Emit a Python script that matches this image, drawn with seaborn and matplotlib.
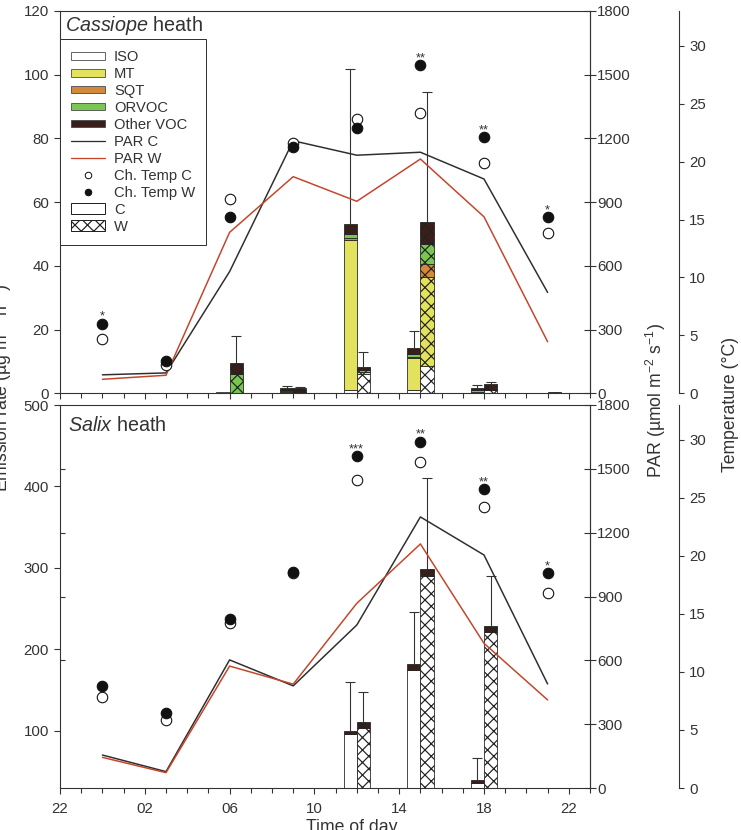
import numpy as np
import pandas as pd
import matplotlib
matplotlib.use("Agg")
import matplotlib.pyplot as plt
import matplotlib.patches as mpatches
from matplotlib.lines import Line2D
from matplotlib.legend_handler import HandlerPatch
from matplotlib.ticker import MultipleLocator
import seaborn as sns

DPI = 75
W_PX, H_PX = 741, 830


def pt(px):
    return px * 72.0 / DPI


# ---------------- data ----------------
# sampling times, hours after 22:00 (00, 03, 06, 09, 12, 15, 18, 21 h)
hours = [2, 5, 8, 11, 14, 17, 20, 23]
xtick_pos = [0, 4, 8, 12, 16, 20, 24]
xtick_labels = ["22", "02", "06", "10", "14", "18", "22"]

components = ["ISO", "MT", "SQT", "ORVOC", "Other VOC"]
comp_colors = ["#ffffff", "#e2e25e", "#d4893a", "#79c653", "#3a1e1b"]

# Cassiope heath, emission rate (ug m-2 h-1)
cas_C_ISO = [0.2, 0.2, 0.3, 0.1, 1.0, 1.0, 0.2, 0.0]
cas_C_MT = [0.0, 0.0, 0.0, 0.4, 47.0, 10.0, 0.3, 0.0]
cas_C_SQT = [0.0, 0.0, 0.0, 0.1, 0.6, 0.3, 0.0, 0.0]
cas_C_ORVOC = [0.0, 0.0, 0.0, 0.5, 1.5, 1.1, 0.6, 0.0]
cas_C_Other = [0.0, 0.0, 0.0, 0.5, 3.1, 1.9, 0.5, 0.0]
cas_C_err = [0.0, 0.0, 0.0, 0.7, 48.7, 5.3, 1.0, 0.0]

cas_W_ISO = [0.2, 0.2, 0.0, 0.0, 6.0, 8.5, 1.0, 0.0]
cas_W_MT = [0.0, 0.0, 0.1, 0.2, 0.6, 28.1, 0.1, 0.0]
cas_W_SQT = [0.0, 0.0, 0.0, 0.0, 0.2, 3.9, 0.0, 0.0]
cas_W_ORVOC = [0.0, 0.0, 6.0, 0.2, 0.4, 6.3, 0.0, 0.0]
cas_W_Other = [0.0, 0.0, 3.5, 1.4, 1.2, 6.9, 1.7, 0.5]
cas_W_err = [0.0, 0.0, 8.4, 0.2, 4.7, 41.0, 0.7, 0.0]

cas_PAR_C = [87, 96, 573, 1189, 1121, 1135, 1009, 475]
cas_PAR_W = [66, 85, 758, 1020, 904, 1103, 831, 243]
cas_T_C = [4.7, 2.4, 16.8, 21.6, 23.7, 24.2, 19.9, 13.8]
cas_T_W = [6.0, 2.8, 15.2, 21.25, 22.9, 28.3, 22.1, 15.2]
cas_stars = ["*", "", "", "", "", "**", "**", "*"]

# Salix heath
sal_C_ISO = [0, 0, 0, 0, 96.0, 175.0, 36.0, 0]
sal_C_MT = [0, 0, 0, 0, 0, 0, 0, 0]
sal_C_SQT = [0, 0, 0, 0, 0, 0, 0, 0]
sal_C_ORVOC = [0, 0, 0, 0, 0, 0, 0, 0]
sal_C_Other = [0, 0, 0, 0, 3.5, 6.8, 4.0, 0]
sal_C_err = [0, 0, 0, 0, 61.0, 64.6, 26.5, 0]

sal_W_ISO = [0, 0, 0, 0, 103.3, 290.0, 221.8, 0]
sal_W_MT = [0, 0, 0, 0, 0, 0, 0, 0]
sal_W_SQT = [0, 0, 0, 0, 0, 0, 0, 0]
sal_W_ORVOC = [0, 0, 0, 0, 0, 0, 0, 0]
sal_W_Other = [0, 0, 0, 0, 8.1, 8.7, 7.0, 0]
sal_W_err = [0, 0, 0, 0, 36.6, 112.1, 61.2, 0]

sal_PAR_C = [155, 77, 602, 480, 766, 1274, 1095, 489]
sal_PAR_W = [144, 72, 573, 488, 868, 1147, 680, 414]
sal_T_C = [7.8, 5.9, 14.2, 18.5, 26.5, 28.1, 24.2, 16.8]
sal_T_W = [8.8, 6.5, 14.6, 18.65, 28.6, 29.85, 25.75, 18.5]
sal_stars = ["", "", "", "", "***", "**", "**", "*"]

# ---------------- style ----------------
TXT = "#333333"
sns.set_theme(style="ticks")
plt.rcParams["font.family"] = ["Liberation Sans", "DejaVu Sans"]
plt.rcParams["mathtext.fontset"] = "custom"
plt.rcParams["mathtext.rm"] = "Liberation Sans"
plt.rcParams["mathtext.it"] = "Liberation Sans:italic"
plt.rcParams["axes.edgecolor"] = TXT
plt.rcParams["axes.linewidth"] = pt(1.1)
plt.rcParams["xtick.color"] = TXT
plt.rcParams["ytick.color"] = TXT
plt.rcParams["text.color"] = TXT
plt.rcParams["hatch.linewidth"] = pt(1.2)
plt.rcParams["hatch.color"] = "#1a1a1a"

TICK_FS = pt(15)
LAB_FS = pt(17.6)
BAR_W = 0.62
EDGE = "#222222"
HATCH = "xx"
PAR_C_COL = "#2e2e2e"
PAR_W_COL = "#c4452a"

fig = plt.figure(figsize=(W_PX / DPI, H_PX / DPI), dpi=DPI)


def frac_rect(top_px, bot_px):
    return [60 / W_PX, 1 - bot_px / H_PX, 530 / W_PX, (bot_px - top_px) / H_PX]


def draw_panel(rect, C_parts, W_parts, C_err, W_err, parC, parW, tC, tW, stars,
               ylim, yticks, yminor, title_it, title_pos, show_xlabels, legend=False):
    ax = fig.add_axes(rect)
    # stacked bars
    for parts, err, offset, hatch in ((C_parts, C_err, -BAR_W, None), (W_parts, W_err, 0.0, HATCH)):
        bottom = np.zeros(len(hours))
        for vals, col in zip(parts, comp_colors):
            vals = np.asarray(vals, dtype=float)
            mask = vals > 0
            ax.bar(np.asarray(hours)[mask] + offset, vals[mask], width=BAR_W, bottom=bottom[mask],
                   align="edge", color=col, edgecolor=EDGE, linewidth=pt(0.8), hatch=hatch, zorder=2)
            bottom = bottom + vals
        err = np.asarray(err, dtype=float)
        m = err > 0
        if m.any():
            _, caps, _ = ax.errorbar(np.asarray(hours)[m] + offset + BAR_W / 2, bottom[m],
                                     yerr=[np.zeros(m.sum()), err[m]], fmt="none", ecolor="#333333",
                                     elinewidth=pt(1.1), capsize=pt(5), capthick=pt(1.1), zorder=1.5)
            caps[0].set_visible(False)
    ax.set_xlim(0, 25)
    ax.set_ylim(*ylim)
    ax.set_yticks(yticks)
    if yminor:
        ax.set_yticks(yminor, minor=True)
        ax.tick_params(axis="y", which="minor", direction="in", length=pt(5), width=pt(1.1))
    ax.set_xticks(xtick_pos)
    ax.xaxis.set_minor_locator(MultipleLocator(1))
    if show_xlabels:
        ax.set_xticklabels(xtick_labels)
    else:
        ax.set_xticklabels([])
    ax.tick_params(axis="both", which="major", direction="out", length=pt(6), width=pt(1.1),
                   labelsize=TICK_FS, pad=pt(5))
    ax.tick_params(axis="x", which="minor", direction="out", length=pt(5), width=pt(1.1))
    ax.tick_params(axis="x", which="major", pad=pt(8))
    ax.text(title_pos[0], title_pos[1], r"$\it{" + title_it + r"}$ heath", transform=ax.transAxes,
            fontsize=pt(19.8), ha="left", va="center")

    # PAR axis
    axp = ax.twinx()
    sns.lineplot(x=hours, y=parC, ax=axp, color=PAR_C_COL, linewidth=pt(1.5), legend=False)
    sns.lineplot(x=hours, y=parW, ax=axp, color=PAR_W_COL, linewidth=pt(1.5), legend=False)
    axp.set_ylim(0, 1800)
    axp.set_yticks(range(0, 1801, 300))
    axp.set_ylabel("")
    axp.tick_params(axis="y", direction="inout", length=pt(12), width=pt(1.1), labelsize=TICK_FS, pad=pt(1))
    for s in ("top", "left", "bottom"):
        axp.spines[s].set_visible(False)

    # Temperature axis
    axt = ax.twinx()
    axt.spines["right"].set_position(("axes", 1.168))
    for s in ("top", "left", "bottom"):
        axt.spines[s].set_visible(False)
    sns.scatterplot(x=hours, y=tC, ax=axt, color="white", edgecolor="#111111", linewidth=pt(1.1),
                    s=pt(10.5) ** 2, legend=False, zorder=3)
    sns.scatterplot(x=hours, y=tW, ax=axt, color="#111111", edgecolor="#111111", linewidth=pt(1.1),
                    s=pt(10.5) ** 2, legend=False, zorder=4)
    axt.set_ylim(0, 33)
    axt.set_yticks(range(0, 31, 5))
    axt.set_ylabel("")
    axt.tick_params(axis="y", direction="out", length=pt(5), width=pt(1.1), labelsize=TICK_FS, pad=pt(5))
    for h, y, s in zip(hours, tW, stars):
        if s:
            axt.annotate(s, (h, y), xytext=(0, pt(4)), textcoords="offset points", ha="center",
                         va="baseline", fontsize=pt(13))
    if legend:
        handles = [mpatches.Patch(facecolor=c, edgecolor="#444444", linewidth=pt(0.8)) for c in comp_colors]
        handles += [Line2D([], [], color=PAR_C_COL, linewidth=pt(1.3)),
                    Line2D([], [], color=PAR_W_COL, linewidth=pt(1.3)),
                    Line2D([], [], linestyle="none", marker="o", markersize=pt(6.5), markerfacecolor="white",
                           markeredgecolor="#111111", markeredgewidth=pt(1.0)),
                    Line2D([], [], linestyle="none", marker="o", markersize=pt(6.5), markerfacecolor="#111111",
                           markeredgecolor="#111111")]
        hC = mpatches.Patch(facecolor="white", edgecolor="#222222", linewidth=pt(1.0))
        hW = mpatches.Patch(facecolor="white", edgecolor="#222222", linewidth=pt(1.0), hatch=HATCH)
        handles += [hC, hW]
        labels = components + ["PAR C", "PAR W", "Ch. Temp C", "Ch. Temp W", "C", "W"]

        def tall(legend, orig_handle, xdescent, ydescent, width, height, fontsize):
            H = pt(10.5)
            return mpatches.Rectangle((-xdescent, -ydescent + (height - H) / 2), width, H)

        lfs = pt(14.8)
        leg = axt.legend(handles, labels, loc="upper left", bbox_to_anchor=(0, 1 - (39 - 11) / 382.3),
                         borderaxespad=0, fontsize=lfs, frameon=True, fancybox=False,
                         handlelength=34 / 14.8, handleheight=pt(6) / lfs, handletextpad=0.6,
                         labelspacing=0.2, borderpad=0.75,
                         handler_map={hC: HandlerPatch(patch_func=tall), hW: HandlerPatch(patch_func=tall)})
        fr = leg.get_frame()
        fr.set_edgecolor("#333333")
        fr.set_linewidth(pt(1.0))
        fr.set_alpha(1)
    return ax, axp, axt


draw_panel(frac_rect(11, 393.3),
           [cas_C_ISO, cas_C_MT, cas_C_SQT, cas_C_ORVOC, cas_C_Other],
           [cas_W_ISO, cas_W_MT, cas_W_SQT, cas_W_ORVOC, cas_W_Other],
           cas_C_err, cas_W_err, cas_PAR_C, cas_PAR_W, cas_T_C, cas_T_W, cas_stars,
           (0, 120), list(range(0, 121, 20)), None, "Cassiope", (0.0094, 0.963), False, legend=True)

draw_panel(frac_rect(405, 788),
           [sal_C_ISO, sal_C_MT, sal_C_SQT, sal_C_ORVOC, sal_C_Other],
           [sal_W_ISO, sal_W_MT, sal_W_SQT, sal_W_ORVOC, sal_W_Other],
           sal_C_err, sal_W_err, sal_PAR_C, sal_PAR_W, sal_T_C, sal_T_W, sal_stars,
           (30, 500), list(range(100, 501, 100)), [186.7, 265.0, 343.3, 421.7], "Salix", (0.015, 0.946), True)

# axis labels
fig.text(8 / W_PX, 1 - 388 / H_PX, r"Emission rate (µg m$^{-2}$ h$^{-1}$)", rotation=90,
         rotation_mode="anchor", ha="center", va="baseline", fontsize=LAB_FS)
fig.text(662 / W_PX, 1 - 400 / H_PX, r"PAR (µmol m$^{-2}$ s$^{-1}$)", rotation=90,
         rotation_mode="anchor", ha="center", va="baseline", fontsize=LAB_FS)
fig.text(735 / W_PX, 1 - 404 / H_PX, "Temperature (°C)", rotation=90,
         rotation_mode="anchor", ha="center", va="baseline", fontsize=LAB_FS)
fig.text(351.5 / W_PX, -1.6 / H_PX, "Time of day", ha="center", va="baseline", fontsize=LAB_FS)

fig.savefig("out.png", dpi=DPI)
